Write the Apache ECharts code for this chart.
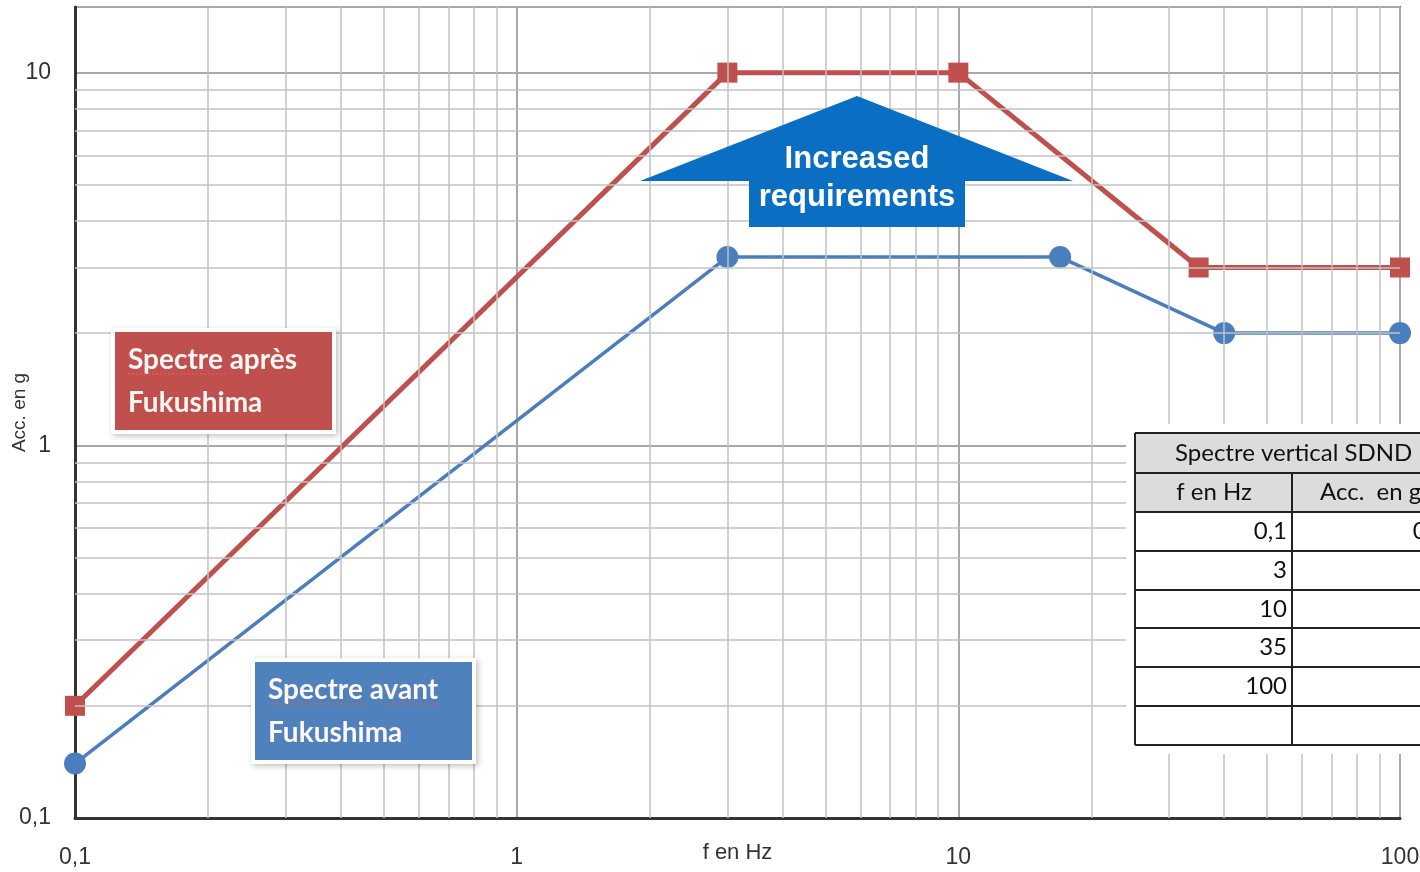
<!DOCTYPE html>
<html>
<head>
<meta charset="utf-8">
<script src="https://cdn.jsdelivr.net/npm/echarts@6/dist/echarts.min.js"></script>
<style>
  html, body { margin: 0; padding: 0; background: #fff; }
  #chart { width: 1420px; height: 872px; }
</style>
</head>
<body>
<div id="chart"></div>
<script>
// Spectre vertical SDND : accélération (g) en fonction de la fréquence (Hz)
const freqApres = [0.1, 3, 10, 35, 100];
const accApres  = [0.2, 10, 10, 3, 3];
const freqAvant = [0.1, 3, 17, 40, 100];
const accAvant  = [0.14, 3.2, 3.2, 2, 2];

// Log grid: intermediate lines inside each decade
const xMinor = [0.2, 0.3, 0.4, 0.5, 0.6, 0.7, 0.8, 0.9, 2, 3, 4, 5, 6, 7, 8, 9, 20, 30, 40, 50, 60, 70, 80, 90];
const yMinor = [0.2, 0.3, 0.4, 0.5, 0.6, 0.7, 0.8, 0.9, 2, 3, 4, 5, 6, 7, 8, 9];
const xTickLabels = { '0.1': '0,1', '1': '1', '10': '10', '100': '100' };
const yTickLabels = { '0.1': '0,1', '1': '1', '10': '10' };

// Table rows
const tableFreq = ['0,1', '3', '10', '35', '100', ''];
const tableAcc  = ['0,2', '10', '10', '3', '3', ''];

const pairs = (xs, ys) => xs.map((x, i) => [x, ys[i]]);
const fmt = (map) => (v) => {
  const key = String(+v.toPrecision(6));
  return map[key] !== undefined ? map[key] : '';
};

const chart = echarts.init(document.getElementById('chart'), null, { renderer: 'canvas' });

// Every overlay element sits above the plot (gridlines, curves)
let zOrder = 0;
const over = (el) => Object.assign({ z: 200, z2: zOrder++ }, el);

// Table graphic
const tLeft = 1135, tDiv = 1292, tRight = 1480;
const rowY = [433, 473, 512, 551, 590, 628, 667, 706, 745];
const tableEls = [];
tableEls.push(over({ type: 'rect', shape: { x: 1126, y: 424, width: 320, height: 330 }, style: { fill: '#fff' } }));
tableEls.push(over({ type: 'rect', shape: { x: tLeft, y: rowY[0], width: tRight - tLeft, height: rowY[2] - rowY[0] }, style: { fill: '#dcdcdc' } }));
rowY.forEach((y) => {
  tableEls.push(over({ type: 'line', shape: { x1: tLeft, y1: y, x2: tRight, y2: y }, style: { stroke: '#222', lineWidth: 2 } }));
});
tableEls.push(over({ type: 'line', shape: { x1: tLeft, y1: rowY[0], x2: tLeft, y2: rowY[8] }, style: { stroke: '#222', lineWidth: 2 } }));
tableEls.push(over({ type: 'line', shape: { x1: tDiv, y1: rowY[1], x2: tDiv, y2: rowY[8] }, style: { stroke: '#222', lineWidth: 2 } }));
const cellFont = '24px Lato, "Open Sans", sans-serif';
tableEls.push(over({ type: 'text', style: { text: 'Spectre vertical SDND', x: 1175, y: (rowY[0] + rowY[1]) / 2, textVerticalAlign: 'middle', font: cellFont, fill: '#111' } }));
tableEls.push(over({ type: 'text', style: { text: 'f en Hz', x: 1214, y: (rowY[1] + rowY[2]) / 2, textAlign: 'center', textVerticalAlign: 'middle', font: cellFont, fill: '#111' } }));
tableEls.push(over({ type: 'text', style: { text: 'Acc.  en g', x: 1320, y: (rowY[1] + rowY[2]) / 2, textVerticalAlign: 'middle', font: cellFont, fill: '#111' } }));
tableFreq.forEach((f, i) => {
  const cy = (rowY[i + 2] + rowY[i + 3]) / 2;
  tableEls.push(over({ type: 'text', style: { text: f, x: 1287, y: cy, textAlign: 'right', textVerticalAlign: 'middle', font: cellFont, fill: '#111' } }));
  tableEls.push(over({ type: 'text', style: { text: tableAcc[i], x: 1446, y: cy, textAlign: 'right', textVerticalAlign: 'middle', font: cellFont, fill: '#111' } }));
});

// Coloured caption boxes; squiggles mark the words flagged by the spell checker
function captionBox(x, y, w, h, fill, lines, squiggles) {
  const els = [
    over({ type: 'rect', shape: { x: x - 4, y: y - 4, width: w + 8, height: h + 8 },
      style: { fill: '#fff', shadowBlur: 6, shadowColor: 'rgba(0,0,0,0.25)', shadowOffsetX: 2, shadowOffsetY: 2 } }),
    over({ type: 'rect', shape: { x: x, y: y, width: w, height: h }, style: { fill: fill } })
  ];
  lines.forEach((t, i) => {
    els.push(over({ type: 'text', style: { text: t, x: x + 13, y: y + 28 + i * 43, textVerticalAlign: 'middle',
      font: 'bold 28px Lato, "Open Sans", sans-serif', fill: '#fdf6f2' } }));
  });
  squiggles.forEach(([a, b]) => {
    els.push(over({ type: 'line', shape: { x1: x + a, y1: y + 42, x2: x + b, y2: y + 42 },
      style: { stroke: '#e2585a', lineWidth: 1.5, lineDash: [2, 2] } }));
  });
  return els;
}

// Arrow "Increased requirements"
const arrowEls = [
  over({ type: 'polygon', shape: { points: [[640, 181], [857, 96], [1073, 181], [965, 181], [965, 227], [749, 227], [749, 181]] },
    style: { fill: '#0a6fc2' } }),
  over({ type: 'text', style: { text: 'Increased', x: 857, y: 159, textAlign: 'center', textVerticalAlign: 'middle',
      font: 'bold 31px "Liberation Sans", Arial, sans-serif', fill: '#fff' } }),
  over({ type: 'text', style: { text: 'requirements', x: 857, y: 197, textAlign: 'center', textVerticalAlign: 'middle',
      font: 'bold 31px "Liberation Sans", Arial, sans-serif', fill: '#fff' } })
];

const gridLineStyle = { color: '#c2c2c2', width: 1.5, type: 'solid' };
const axisFont = '"Liberation Sans Narrow", "Liberation Sans", Arial';

const option = {
  backgroundColor: '#fff',
  animation: false,
  grid: { left: 75, right: 20, top: 7, bottom: 54, outerBoundsMode: 'none', containLabel: false,
          show: true, borderColor: '#666', borderWidth: 2, backgroundColor: '#fff' },
  xAxis: {
    type: 'log', logBase: 10, min: 0.1, max: 100,
    name: 'f en Hz', nameLocation: 'middle', nameGap: 24, nameMoveOverlap: false,
    nameTextStyle: { fontFamily: axisFont, fontSize: 22, color: '#333', verticalAlign: 'top' },
    axisLine: { lineStyle: { color: '#333', width: 3 } },
    axisTick: { show: false },
    axisLabel: { formatter: fmt(xTickLabels), fontFamily: axisFont, fontSize: 23, color: '#333', margin: 28 },
    splitLine: { show: true, lineStyle: { color: '#a8a8a8', width: 2 } }
  },
  yAxis: {
    type: 'log', logBase: 10, min: 0.1, max: 15,
    name: 'Acc. en g', nameLocation: 'middle', nameGap: 46, nameRotate: 90, nameMoveOverlap: false,
    nameTextStyle: { fontFamily: '"Liberation Sans", Arial', fontSize: 19, color: '#333' },
    axisLine: { lineStyle: { color: '#333', width: 3 } },
    axisTick: { show: false },
    axisLabel: { formatter: fmt(yTickLabels), fontFamily: axisFont, fontSize: 23, color: '#333', margin: 24 },
    splitLine: { show: true, lineStyle: { color: '#a8a8a8', width: 2 } }
  },
  series: [
    {
      name: 'grille', type: 'line', data: [], silent: true, z: 1,
      markLine: {
        silent: true, symbol: 'none', label: { show: false }, animation: false,
        lineStyle: gridLineStyle,
        data: xMinor.map((v) => ({ xAxis: v })).concat(yMinor.map((v) => ({ yAxis: v })))
      }
    },
    {
      name: 'Spectre après Fukushima', type: 'line', z: 4,
      data: pairs(freqApres, accApres),
      symbol: 'rect', symbolSize: 20,
      lineStyle: { color: '#c0504d', width: 5 },
      itemStyle: { color: '#c0504d' }
    },
    {
      name: 'Spectre avant Fukushima', type: 'line', z: 3,
      data: pairs(freqAvant, accAvant),
      symbol: 'circle', symbolSize: 22,
      lineStyle: { color: '#4a7ebf', width: 3.5 },
      itemStyle: { color: '#4a7ebf' }
    }
  ],
  graphic: {
    elements: [].concat(
      tableEls,
      captionBox(115, 332, 217, 98, '#c0504d', ['Spectre après', 'Fukushima'], [[13, 113]]),
      captionBox(255, 662, 217, 98, '#4f81bd', ['Spectre avant', 'Fukushima'], [[13, 113], [125, 185]]),
      arrowEls
    )
  }
};

chart.setOption(option);
</script>
</body>
</html>
